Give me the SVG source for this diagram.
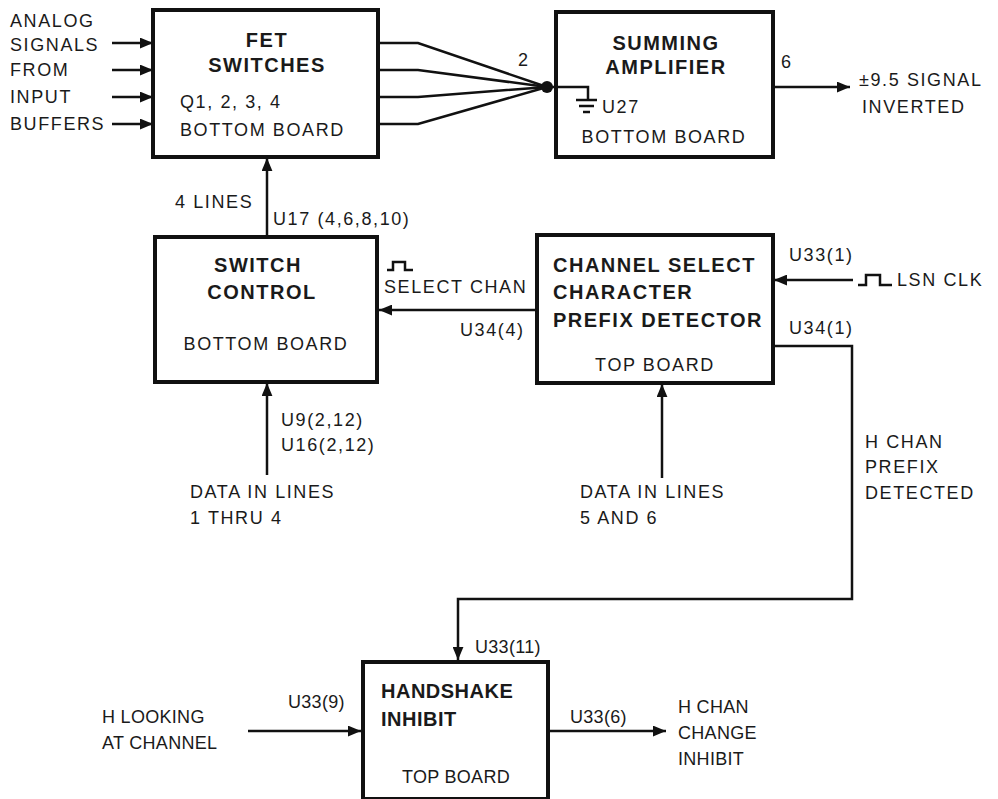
<svg xmlns="http://www.w3.org/2000/svg" width="998" height="799" viewBox="0 0 998 799">
<defs>
<style>
.box{fill:#fff;stroke:#111;stroke-width:4}
.ln{fill:none;stroke:#111;stroke-width:2.5}
.t{font-family:"Liberation Sans",Arial,sans-serif;font-size:18px;fill:#1a1a1a;letter-spacing:1.6px}
.n{font-family:"Liberation Sans",Arial,sans-serif;font-size:18px;fill:#1a1a1a;letter-spacing:0.3px}
.b{font-family:"Liberation Sans",Arial,sans-serif;font-size:20px;font-weight:bold;fill:#1a1a1a;letter-spacing:1.5px}
.m{text-anchor:middle}
</style>
<marker id="ah" viewBox="0 0 12 10" refX="12" refY="5" markerWidth="13" markerHeight="11" markerUnits="userSpaceOnUse" orient="auto">
<path d="M0,0 L12,5 L0,10 z" fill="#111"/>
</marker>
</defs>
<rect width="998" height="799" fill="#fff"/>

<g id="fet-switches">
<rect class="box" x="153" y="10" width="225" height="147"/>
<text class="b m" x="267" y="47">FET</text>
<text class="b m" x="267" y="72">SWITCHES</text>
<text class="t" x="180" y="108">Q1, 2, 3, 4</text>
<text class="t" x="180" y="136">BOTTOM BOARD</text>
</g>

<g id="summing-amplifier">
<rect class="box" x="556" y="12" width="217" height="145"/>
<text class="b m" x="666" y="50">SUMMING</text>
<text class="b m" x="666" y="74">AMPLIFIER</text>
<text class="t" x="602" y="113">U27</text>
<text class="t m" x="664" y="143">BOTTOM BOARD</text>
</g>

<g id="switch-control">
<rect class="box" x="155" y="237" width="222" height="145"/>
<text class="b m" x="258" y="272">SWITCH</text>
<text class="b m" x="262" y="299">CONTROL</text>
<text class="t m" x="266" y="350">BOTTOM BOARD</text>
</g>

<g id="channel-select">
<rect class="box" x="537" y="235" width="236" height="148"/>
<text class="b" x="553" y="272">CHANNEL SELECT</text>
<text class="b" x="553" y="299">CHARACTER</text>
<text class="b" x="553" y="327">PREFIX DETECTOR</text>
<text class="t m" x="655" y="371">TOP BOARD</text>
</g>

<g id="handshake-inhibit">
<rect class="box" x="363" y="662" width="185" height="137"/>
<text class="b" x="381" y="698" style="letter-spacing:0.5px">HANDSHAKE</text>
<text class="b" x="381" y="726" style="letter-spacing:0.5px">INHIBIT</text>
<text class="n m" x="456" y="783">TOP BOARD</text>
</g>

<g id="connectors">
<line class="ln" x1="112" y1="43" x2="153" y2="43" marker-end="url(#ah)"/>
<line class="ln" x1="112" y1="70" x2="153" y2="70" marker-end="url(#ah)"/>
<line class="ln" x1="112" y1="97" x2="153" y2="97" marker-end="url(#ah)"/>
<line class="ln" x1="112" y1="124" x2="153" y2="124" marker-end="url(#ah)"/>
<polyline class="ln" points="378,43 418,43 547,87"/>
<polyline class="ln" points="378,70 418,70 547,87"/>
<polyline class="ln" points="378,97 418,97 547,87"/>
<polyline class="ln" points="378,124 418,124 547,87"/>
<circle cx="547" cy="87" r="6" fill="#111"/>
<polyline class="ln" points="547,87 588,87 588,100"/>
<line class="ln" x1="576" y1="100" x2="597" y2="100"/>
<line class="ln" x1="579" y1="106" x2="594" y2="106"/>
<line class="ln" x1="583" y1="112" x2="590" y2="112"/>
<line class="ln" x1="773" y1="87" x2="850" y2="87" marker-end="url(#ah)"/>
<line class="ln" x1="267" y1="236" x2="267" y2="158" marker-end="url(#ah)"/>
<line class="ln" x1="537" y1="310" x2="379" y2="310" marker-end="url(#ah)"/>
<polyline class="ln" points="387,270 393,270 393,262 405,262 405,270 413,270"/>
<line class="ln" x1="267" y1="475" x2="267" y2="383" marker-end="url(#ah)"/>
<line class="ln" x1="853" y1="280" x2="774" y2="280" marker-end="url(#ah)"/>
<polyline class="ln" points="858,285 866,285 866,275 880,275 880,285 892,285"/>
<line class="ln" x1="662" y1="478" x2="662" y2="384" marker-end="url(#ah)"/>
<polyline class="ln" points="773,346 852,346 852,599 458,599 458,660" marker-end="url(#ah)"/>
<line class="ln" x1="248" y1="731" x2="361" y2="731" marker-end="url(#ah)"/>
<line class="ln" x1="548" y1="731" x2="666" y2="731" marker-end="url(#ah)"/>
</g>

<g id="input-labels">
<text class="t" x="10" y="27">ANALOG</text>
<text class="t" x="10" y="51">SIGNALS</text>
<text class="t" x="10" y="76">FROM</text>
<text class="t" x="10" y="103">INPUT</text>
<text class="t" x="10" y="130">BUFFERS</text>
</g>

<g id="sum-labels">
<text class="t" x="518" y="66">2</text>
<text class="t" x="781" y="68">6</text>
<text class="t" x="859" y="86">±9.5 SIGNAL</text>
<text class="t" x="862" y="113">INVERTED</text>
</g>

<g id="switch-labels">
<text class="t" x="175" y="208">4 LINES</text>
<text class="t" x="273" y="225">U17 (4,6,8,10)</text>
<text class="t" x="384" y="293">SELECT CHAN</text>
<text class="t" x="460" y="336">U34(4)</text>
<text class="t" x="281" y="426">U9(2,12)</text>
<text class="t" x="281" y="451">U16(2,12)</text>
<text class="t" x="190" y="498">DATA IN LINES</text>
<text class="t" x="190" y="524">1 THRU 4</text>
</g>

<g id="channel-labels">
<text class="t" x="789" y="261">U33(1)</text>
<text class="t" x="897" y="286">LSN CLK</text>
<text class="t" x="789" y="334">U34(1)</text>
<text class="t" x="865" y="448">H CHAN</text>
<text class="t" x="865" y="473">PREFIX</text>
<text class="t" x="865" y="499">DETECTED</text>
<text class="t" x="580" y="498">DATA IN LINES</text>
<text class="t" x="580" y="524">5 AND 6</text>
</g>

<g id="handshake-labels">
<text class="n" x="475" y="653">U33(11)</text>
<text class="n" x="288" y="708">U33(9)</text>
<text class="n" x="102" y="723">H LOOKING</text>
<text class="n" x="102" y="749">AT CHANNEL</text>
<text class="n" x="570" y="723">U33(6)</text>
<text class="n" x="678" y="713">H CHAN</text>
<text class="n" x="678" y="739">CHANGE</text>
<text class="n" x="678" y="765">INHIBIT</text>
</g>
</svg>
